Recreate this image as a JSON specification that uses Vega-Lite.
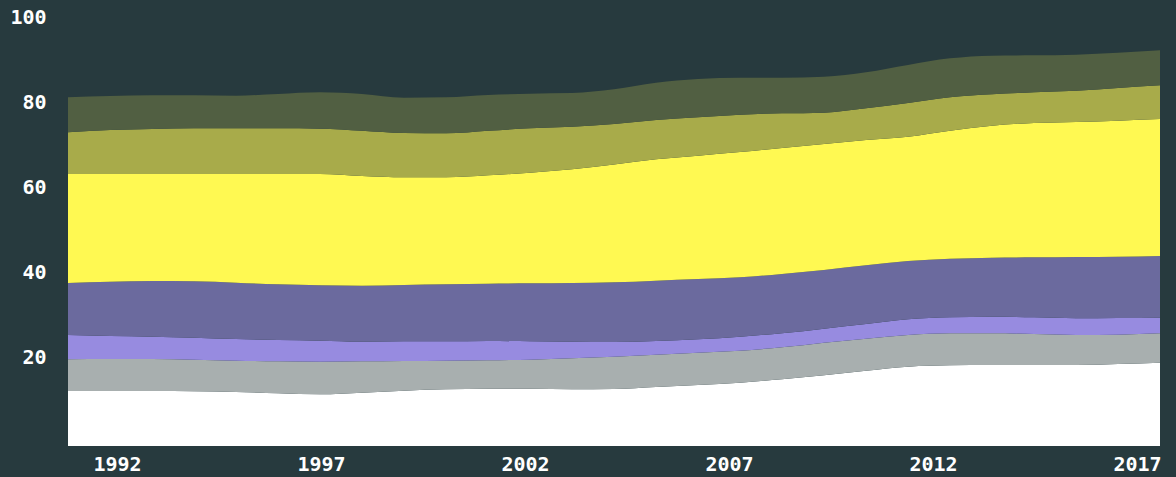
{
  "$schema": "https://vega.github.io/schema/vega-lite/v6.json",
  "width": 1092,
  "height": 426,
  "autosize": "none",
  "padding": {"left": 68, "top": 20, "right": 16, "bottom": 31},
  "background": "#273a3e",
  "config": {
    "view": {"stroke": null},
    "axis": {
      "labelFont": "DejaVu Sans Mono",
      "labelFontSize": 20,
      "labelFontWeight": "bold",
      "labelColor": "#ffffff",
      "domain": false,
      "ticks": false,
      "grid": false,
      "title": null,
      "labelFlush": false,
      "labelOverlap": false,
      "labelBound": false
    }
  },
  "data": {
    "values": [
      {"year": 1991, "A": 12.91, "B": 7.43, "C": 5.72, "D": 12.20, "E": 25.59, "F": 9.78, "G": 8.22},
      {"year": 1992, "A": 12.91, "B": 7.51, "C": 5.40, "D": 12.76, "E": 25.27, "F": 10.33, "G": 7.98},
      {"year": 1993, "A": 12.91, "B": 7.51, "C": 5.25, "D": 13.06, "E": 25.12, "F": 10.56, "G": 7.91},
      {"year": 1994, "A": 12.83, "B": 7.44, "C": 5.16, "D": 13.22, "E": 25.20, "F": 10.72, "G": 7.75},
      {"year": 1995, "A": 12.68, "B": 7.35, "C": 5.09, "D": 13.22, "E": 25.51, "F": 10.72, "G": 7.67},
      {"year": 1996, "A": 12.36, "B": 7.51, "C": 5.01, "D": 13.07, "E": 25.90, "F": 10.72, "G": 8.06},
      {"year": 1997, "A": 12.13, "B": 7.67, "C": 4.93, "D": 12.99, "E": 26.13, "F": 10.64, "G": 8.53},
      {"year": 1998, "A": 12.52, "B": 7.35, "C": 4.62, "D": 13.15, "E": 25.74, "F": 10.64, "G": 8.61},
      {"year": 1999, "A": 12.99, "B": 6.96, "C": 4.62, "D": 13.22, "E": 25.28, "F": 10.40, "G": 8.30},
      {"year": 2000, "A": 13.30, "B": 6.73, "C": 4.54, "D": 13.38, "E": 25.12, "F": 10.33, "G": 8.45},
      {"year": 2001, "A": 13.46, "B": 6.65, "C": 4.54, "D": 13.46, "E": 25.43, "F": 10.48, "G": 8.37},
      {"year": 2002, "A": 13.46, "B": 6.81, "C": 4.30, "D": 13.61, "E": 25.98, "F": 10.41, "G": 8.14},
      {"year": 2003, "A": 13.30, "B": 7.28, "C": 3.91, "D": 13.77, "E": 26.69, "F": 10.01, "G": 7.90},
      {"year": 2004, "A": 13.38, "B": 7.59, "C": 3.44, "D": 14.01, "E": 27.68, "F": 9.49, "G": 8.14},
      {"year": 2005, "A": 13.85, "B": 7.59, "C": 3.21, "D": 14.16, "E": 28.48, "F": 9.24, "G": 8.76},
      {"year": 2006, "A": 14.32, "B": 7.59, "C": 3.13, "D": 14.16, "E": 28.95, "F": 9.00, "G": 9.00},
      {"year": 2007, "A": 14.87, "B": 7.51, "C": 3.29, "D": 13.92, "E": 29.42, "F": 8.77, "G": 8.68},
      {"year": 2008, "A": 15.65, "B": 7.51, "C": 3.29, "D": 13.93, "E": 29.57, "F": 8.14, "G": 8.37},
      {"year": 2009, "A": 16.59, "B": 7.67, "C": 3.28, "D": 13.77, "E": 29.58, "F": 7.36, "G": 8.45},
      {"year": 2010, "A": 17.68, "B": 7.52, "C": 3.44, "D": 13.77, "E": 29.42, "F": 7.44, "G": 8.45},
      {"year": 2011, "A": 18.62, "B": 7.44, "C": 3.67, "D": 13.70, "E": 29.18, "F": 7.91, "G": 8.92},
      {"year": 2012, "A": 18.94, "B": 7.51, "C": 3.75, "D": 13.77, "E": 30.05, "F": 7.83, "G": 9.15},
      {"year": 2013, "A": 19.01, "B": 7.44, "C": 3.91, "D": 13.85, "E": 30.99, "F": 7.35, "G": 9.08},
      {"year": 2014, "A": 19.01, "B": 7.28, "C": 3.91, "D": 14.09, "E": 31.53, "F": 7.20, "G": 8.69},
      {"year": 2015, "A": 19.01, "B": 7.05, "C": 3.91, "D": 14.40, "E": 31.69, "F": 7.35, "G": 8.45},
      {"year": 2016, "A": 19.25, "B": 6.88, "C": 3.92, "D": 14.39, "E": 31.93, "F": 7.67, "G": 8.29},
      {"year": 2017, "A": 19.56, "B": 6.89, "C": 3.68, "D": 14.47, "E": 32.16, "F": 7.90, "G": 8.22}
    ]
  },
  "layer": [
    {
      "transform": [{"fold": ["A", "B", "C", "D", "E", "F", "G"], "as": ["series", "value"]}],
      "mark": {"type": "area", "interpolate": "monotone"},
      "encoding": {
        "x": {"field": "year", "type": "quantitative", "scale": {"domain": [1991, 2017], "nice": false, "zero": false}, "axis": null},
        "y": {
          "field": "value", "type": "quantitative", "stack": "zero",
          "scale": {"domain": [0, 100], "nice": false},
          "axis": {"values": [20, 40, 60, 80, 100], "labelPadding": 22, "labelOffset": -3}
        },
        "color": {
          "field": "series", "type": "nominal", "legend": null,
          "scale": {
            "domain": ["A", "B", "C", "D", "E", "F", "G"],
            "range": ["#ffffff", "#a8afaf", "#978be0", "#6b6a9e", "#fff952", "#a8ab4a", "#515f42"]
          }
        },
        "order": {"field": "series", "sort": "ascending"}
      }
    },
    {
      "mark": {"type": "rule", "opacity": 0},
      "encoding": {
        "x": {
          "field": "year", "type": "quantitative",
          "scale": {"domain": [1990.8, 2017.564], "nice": false, "zero": false},
          "axis": {"values": [1992, 1997, 2002, 2007, 2012, 2017], "format": "d", "labelPadding": 8}
        }
      }
    }
  ],
  "resolve": {"scale": {"x": "independent"}}
}
